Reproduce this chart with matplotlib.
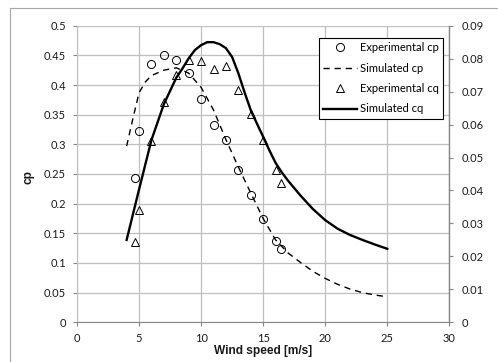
import matplotlib.pyplot as plt
from matplotlib.patches import Rectangle

plt.rcParams['font.family'] = ['Lato', 'DejaVu Sans']

# Eksperimentelle punkter
vind_exp = [4.7, 5.0, 6.0, 7.0, 8.0, 9.0, 10.0, 11.0, 12.0, 13.0, 14.0, 15.0, 16.0, 16.4]
cp_exp = [0.244, 0.323, 0.435, 0.451, 0.442, 0.421, 0.376, 0.332, 0.307, 0.256, 0.215, 0.174, 0.137, 0.123]
cq_exp = [0.0243, 0.0340, 0.0551, 0.0668, 0.0749, 0.0797, 0.0794, 0.0770, 0.0779, 0.0706, 0.0632, 0.0554, 0.0461, 0.0423]

# Simulerte kurver
vind_sim_cp = [4, 4.5, 5, 5.5, 6, 7, 8, 9, 10, 11, 12, 13, 14, 15, 16, 17, 18, 19, 20, 21, 22, 23, 24, 25]
cp_sim = [0.297, 0.343, 0.387, 0.405, 0.416, 0.425, 0.429, 0.420, 0.396, 0.358, 0.308, 0.262, 0.218, 0.175,
          0.139, 0.117, 0.101, 0.086, 0.074, 0.064, 0.056, 0.050, 0.046, 0.043]
vind_sim_cq = [4, 5, 6, 7, 8, 8.5, 9, 9.5, 10, 10.5, 11, 11.5, 12, 12.5, 13, 13.5, 14, 14.5, 15, 15.5, 16,
               16.5, 17, 18, 19, 20, 21, 22, 23, 24, 25]
cq_sim = [0.0250, 0.0403, 0.0553, 0.0662, 0.0742, 0.0770, 0.0801, 0.0826, 0.0841, 0.0850, 0.0850, 0.0844,
          0.0832, 0.0805, 0.0756, 0.0698, 0.0644, 0.0603, 0.0563, 0.0522, 0.0484, 0.0455, 0.0430, 0.0385,
          0.0344, 0.0310, 0.0284, 0.0265, 0.0250, 0.0236, 0.0223]

x_ticks = [0, 5, 10, 15, 20, 25, 30]
cp_ticks = [0, 0.05, 0.1, 0.15, 0.2, 0.25, 0.3, 0.35, 0.4, 0.45, 0.5]
cq_ticks = [0, 0.01, 0.02, 0.03, 0.04, 0.05, 0.06, 0.07, 0.08, 0.09]

tekst = '#1a1a1a'
grid_farge = '#bfbfbf'
akse_farge = '#868686'
fet = ['Liberation Sans', 'DejaVu Sans']  # Lato mangler fet variant her

fig = plt.figure(figsize=(4.98, 3.62), dpi=100)
ax1 = fig.add_axes([0.1546, 0.1097, 0.7476, 0.8193])
ax2 = ax1.twinx()

# ytre ramme rundt diagrammet (beskjært til høyre og nederst)
fig.patches.append(Rectangle((10 / 498, -0.2), 1.5, 1.2 - 8 / 362, transform=fig.transFigure,
                             fill=False, edgecolor='#a6a6a6', linewidth=0.8))

ax1.plot(vind_exp, cp_exp, linestyle='none', marker='o', markersize=5.8, markerfacecolor='none',
         markeredgecolor='black', markeredgewidth=0.7, label='Experimental cp')
ax1.plot(vind_sim_cp, cp_sim, color='black', linestyle=(0, (4.5, 3.5)), linewidth=1.0, label='Simulated cp')
ax2.plot(vind_exp, cq_exp, linestyle='none', marker='^', markersize=5.8, markerfacecolor='none',
         markeredgecolor='black', markeredgewidth=0.7, label='Experimental cq')
ax2.plot(vind_sim_cq, cq_sim, color='black', linewidth=1.7, label='Simulated cq')

ax1.set_xlim(0, 30)
ax1.set_ylim(0, 0.5)
ax2.set_ylim(0, 0.09)
ax1.set_xticks(x_ticks)
ax1.set_yticks(cp_ticks)
ax2.set_yticks(cq_ticks)
ax1.set_xticklabels([str(t) for t in x_ticks])
ax1.set_yticklabels(['0' if t == 0 else f'{t:g}' for t in cp_ticks])
ax2.set_yticklabels(['0' if t == 0 else f'{t:g}' for t in cq_ticks])

ax1.grid(True, color=grid_farge, linewidth=0.9)
ax1.set_axisbelow(True)

for ax in (ax1, ax2):
    for side in ('top', 'left', 'right', 'bottom'):
        ax.spines[side].set_visible(False)
ax1.spines['left'].set_visible(True)
ax1.spines['left'].set_color(grid_farge)
ax1.spines['bottom'].set_visible(True)
ax1.spines['bottom'].set_color(akse_farge)
ax2.spines['right'].set_visible(True)
ax2.spines['right'].set_color(akse_farge)
ax2.spines['right'].set_linewidth(1.0)

ax1.tick_params(axis='both', labelsize=8, colors=akse_farge, labelcolor=tekst, length=3, width=0.8, pad=5)
ax2.tick_params(axis='y', labelsize=8, colors=akse_farge, labelcolor=tekst, length=3, width=0.8, pad=6)

ax1.set_xlabel('Wind speed [m/s]', fontsize=8.6, fontweight='bold', family=fet, color=tekst)
ax1.xaxis.set_label_coords(0.5, -0.078)
ax1.set_ylabel('cp', fontsize=8.6, fontweight='bold', family=fet, color=tekst)
ax1.yaxis.set_label_coords(-0.115, 0.49)
ax2.set_ylabel('cq', fontsize=8.6, fontweight='bold', family=fet, color=tekst)
ax2.yaxis.set_label_coords(1.135, 0.507)

h1, l1 = ax1.get_legend_handles_labels()
h2, l2 = ax2.get_legend_handles_labels()
leg = ax2.legend(h1 + h2, l1 + l2, loc='upper right', bbox_to_anchor=(443.3 / 498, 1 - 37.7 / 362),
                 bbox_transform=fig.transFigure, fontsize=8, frameon=True, fancybox=False,
                 edgecolor='black', framealpha=1, borderpad=0.4, labelspacing=0.85,
                 handlelength=3.0, handletextpad=0.3, borderaxespad=0)
leg.get_frame().set_linewidth(0.8)

fig.savefig('out.png', dpi=100)
